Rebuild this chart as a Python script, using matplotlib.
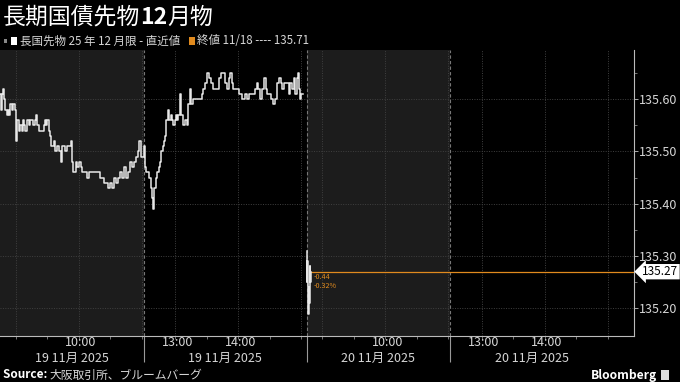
"""
JGB futures (Dec contract) intraday chart, Bloomberg dark style.
x axis is in trading minutes, so lunch break and overnight are squeezed out.
"""

import matplotlib
matplotlib.use("Agg")
import matplotlib.pyplot as plt
import matplotlib.transforms as mtransforms
from matplotlib.patches import Rectangle

plt.rcParams["font.family"] = ["Noto Sans CJK JP", "DejaVu Sans"]

TITLE_A = "長期国債先物"
TITLE_B = "12"
TITLE_C = "月物"
SERIES_LABEL = "長国先物 25 年 12 月限 - 直近値"
CLOSE_LABEL = "終値 11/18 ---- 135.71"
SOURCE_TEXT = "大阪取引所、ブルームバーグ"
PREV_CLOSE = 135.71

# morning / afternoon sessions of one trading day
SESSIONS = [("08:45", "11:02"), ("12:30", "15:05")]
DAYS = ["19 11月 2025", "20 11月 2025"]
HOUR_GRID = ["09:00", "10:00", "11:00", "13:00", "14:00", "15:00"]
HOUR_LABELS = ["10:00", "13:00", "14:00"]
HALF_HOURS = ["09:00", "09:30", "10:00", "10:30", "11:00",
              "13:00", "13:30", "14:00", "14:30", "15:00"]
Y_TICKS = [135.20, 135.30, 135.40, 135.50, 135.60]

# 19 Nov, trading minutes since the open
day1_t = [0, 1, 2, 3, 4, 5, 6.5, 7.5, 9, 10, 11.5, 12.5, 14, 15, 15.5, 16.5,
          18, 19, 20.5, 21.5, 23, 24, 25.5, 27.5, 29, 31, 33, 34.5, 35.5, 37.5,
          39.5, 41.5, 42.5, 44, 45, 46.5, 47.5, 49, 50, 51.5, 52.5, 54.5, 56.5,
          58.5, 59.5, 61.5, 63.5, 65.5, 67.5, 68.5, 70, 72, 73.5, 75.5, 77,
          78.5, 80.5, 82.5, 84.5, 86.5, 89, 91.5, 93.5, 95, 97, 99, 101, 103,
          105, 106.5, 108.5, 110.5, 112.5, 114.5, 116, 118, 120, 122, 124,
          125.5, 127.5, 129.5, 131.5, 132.5, 134,
          137, 138.5, 139.5, 141, 142, 143.5, 145, 146, 147, 148.5, 150, 151,
          152.5, 153.5, 155, 156, 157.5, 158.5, 160, 161, 162.5, 164, 165,
          166.5, 167.5, 169, 170, 171.5, 172.5, 174, 176, 178, 179.5, 181, 182,
          184, 186, 188, 190, 192, 193.5, 195.5, 197.5, 199.5, 201, 203, 205,
          207, 209, 211, 212.5, 214, 216, 218, 219, 221, 222, 224, 226, 228,
          230, 231, 233, 235, 237, 239, 240.5, 242.5, 244.5, 246, 247.5, 249.5,
          251.5, 253.5, 254.5, 256.5, 258.5, 260.5, 262, 264, 265.5, 267.5,
          269, 271, 273, 275, 276, 278, 280, 281, 282.5, 284, 285, 285.5, 287,
          289]
day1_p = [135.61, 135.58, 135.61, 135.62, 135.60, 135.58, 135.57, 135.58,
          135.57, 135.59, 135.58, 135.59, 135.58, 135.57, 135.52, 135.56,
          135.54, 135.55, 135.54, 135.56, 135.55, 135.54, 135.56, 135.55,
          135.56, 135.55, 135.56, 135.57, 135.55, 135.54, 135.54, 135.55,
          135.56, 135.55, 135.56, 135.54, 135.53, 135.51, 135.51, 135.52,
          135.50, 135.51, 135.50, 135.48, 135.51, 135.50, 135.51, 135.51,
          135.52, 135.48, 135.46, 135.48, 135.47, 135.48, 135.47, 135.46,
          135.46, 135.45, 135.46, 135.46, 135.46, 135.46, 135.46, 135.45,
          135.45, 135.44, 135.44, 135.43, 135.44, 135.43, 135.45, 135.44,
          135.45, 135.46, 135.45, 135.47, 135.45, 135.46, 135.48, 135.47,
          135.48, 135.49, 135.50, 135.52, 135.49,
          135.51, 135.47, 135.46, 135.46, 135.45, 135.43, 135.41, 135.39,
          135.43, 135.45, 135.46, 135.47, 135.48, 135.50, 135.51, 135.52,
          135.53, 135.56, 135.58, 135.56, 135.57, 135.56, 135.55, 135.56,
          135.57, 135.56, 135.57, 135.61, 135.57, 135.55, 135.56, 135.55,
          135.59, 135.62, 135.59, 135.60, 135.60, 135.60, 135.60, 135.61,
          135.62, 135.63, 135.65, 135.64, 135.63, 135.62, 135.62, 135.62,
          135.64, 135.65, 135.65, 135.63, 135.62, 135.64, 135.65, 135.63,
          135.62, 135.62, 135.62, 135.61, 135.61, 135.60, 135.61, 135.60,
          135.61, 135.61, 135.61, 135.62, 135.63, 135.62, 135.60, 135.62,
          135.64, 135.62, 135.61, 135.61, 135.60, 135.59, 135.60, 135.63,
          135.64, 135.63, 135.62, 135.63, 135.63, 135.61, 135.63, 135.62,
          135.64, 135.61, 135.64, 135.65, 135.62, 135.60, 135.61, 135.61]

# 20 Nov opening minutes
day2_t = [292, 292.4, 292.8, 293.2, 293.6, 294, 294.5, 295, 295.5, 296]
day2_p = [135.31, 135.25, 135.29, 135.21, 135.19, 135.24, 135.21, 135.28,
          135.25, 135.27]

GREY_BG = "#1c1c1c"
LINE_C = "#e8e8e8"
ORANGE = "#e08a1e"
TEXT_C = "#d6d6d6"
GRID_C = "#404040"


def to_min(hhmm):
    h, m = hhmm.split(":")
    return int(h) * 60 + int(m)


SESSION_LEN = [to_min(c) - to_min(o) for o, c in SESSIONS]
DAY_LEN = sum(SESSION_LEN)


def trade_x(day, hhmm):
    t = to_min(hhmm)
    x = day * DAY_LEN
    for (o, c), n in zip(SESSIONS, SESSION_LEN):
        if t <= to_min(c):
            return x + max(t - to_min(o), 0)
        x += n
    return x


def main():
    assert len(day1_t) == len(day1_p)
    assert len(day2_t) == len(day2_p)

    fig = plt.figure(figsize=(6.8, 3.82), dpi=100, facecolor="black")
    ax = fig.add_axes([0, 0.1204, 0.9324, 0.7487], facecolor="black")
    x_end = 604
    ax.set_xlim(0, x_end)
    ax.set_ylim(135.147, 135.694)

    # morning sessions shaded grey
    bounds = []
    for d in range(len(DAYS)):
        ax.axvspan(trade_x(d, SESSIONS[0][0]), trade_x(d, SESSIONS[0][1]),
                   color=GREY_BG, lw=0, zorder=0)
        bounds.append(trade_x(d, SESSIONS[0][1]))
        if d < len(DAYS) - 1:
            bounds.append((d + 1) * DAY_LEN)

    for y in Y_TICKS:
        ax.axhline(y, color=GRID_C, lw=0.7, ls=(0, (1, 1.5)), zorder=1)
    for d in range(len(DAYS)):
        for h in HOUR_GRID:
            ax.axvline(trade_x(d, h), color=GRID_C, lw=0.7, ls=(0, (1, 1.5)),
                       zorder=1)
    for b in bounds:
        ax.axvline(b, color="#777777", lw=0.8, ls=(0, (3, 2)), zorder=1)

    ax.plot(day1_t, day1_p, color=LINE_C, lw=1.1, drawstyle="steps-post",
            zorder=3)
    ax.plot(day2_t, day2_p, color=LINE_C, lw=1.1, drawstyle="steps-post",
            zorder=3)

    last = day2_p[-1]
    ax.plot([day2_t[-1], x_end], [last, last], color=ORANGE, lw=0.9, zorder=2)
    chg = last - PREV_CLOSE
    pct = chg / PREV_CLOSE * 100
    ax.annotate(f"{chg:.2f}", xy=(day2_t[-1], last), xytext=(2, -3.8),
                textcoords="offset points", color=ORANGE, fontsize=5.2,
                ha="left", va="center")
    ax.annotate(f"{pct:.2f}%", xy=(day2_t[-1], last), xytext=(2, -10),
                textcoords="offset points", color=ORANGE, fontsize=5.2,
                ha="left", va="center")

    # right axis
    for s in ["top", "left"]:
        ax.spines[s].set_visible(False)
    for s in ["right", "bottom"]:
        ax.spines[s].set_color("#bbbbbb")
        ax.spines[s].set_linewidth(0.8)
    ax.yaxis.tick_right()
    ax.set_yticks(Y_TICKS)
    ax.set_yticklabels([f"{v:.2f}" for v in Y_TICKS])
    ax.set_yticks([v + 0.05 for v in [135.15] + Y_TICKS], minor=True)
    ax.tick_params(axis="y", which="major", colors="#aaaaaa", length=3,
                   width=0.7, labelcolor=TEXT_C, labelsize=9, pad=0.5)
    ax.tick_params(axis="y", which="minor", colors="#888888", length=2,
                   width=0.6)

    # bottom axis: long ticks at session breaks, short ticks every 30 min
    ax.set_xticks(bounds)
    ax.set_xticklabels([])
    ax.set_xticks([trade_x(d, h) for d in range(len(DAYS)) for h in HALF_HOURS],
                  minor=True)
    ax.tick_params(axis="x", which="major", colors="#999999", length=19,
                   width=0.8)
    ax.tick_params(axis="x", which="minor", colors="#888888", length=2,
                   width=0.6)

    xt = mtransforms.blended_transform_factory(ax.transData, ax.transAxes)
    for d, day_lbl in enumerate(DAYS):
        for h in HOUR_LABELS:
            ax.annotate(h, xy=(trade_x(d, h), 0), xycoords=xt,
                        xytext=(1.5, -4.8), textcoords="offset points",
                        ha="center", va="center", color=TEXT_C, fontsize=9)
        for o, c in SESSIONS:
            mid = (trade_x(d, o) + trade_x(d, c)) / 2
            ax.annotate(day_lbl, xy=(mid, 0), xycoords=xt,
                        xytext=(0, -16.5), textcoords="offset points",
                        ha="center", va="center", color=TEXT_C, fontsize=9)

    # last value tag
    ax.annotate(f"{last:.2f}", xy=(1, last), xycoords=("axes fraction", "data"),
                xytext=(6, 0), textcoords="offset points", ha="left",
                va="center", color="black", fontsize=8.5,
                bbox=dict(boxstyle="larrow,pad=0.1", fc="white", ec="none"))

    # title
    r = fig.canvas.get_renderer()
    ty = 1 - 17 / 382
    t1 = fig.text(0.004, ty, TITLE_A, color="white", fontsize=16.5,
                  va="center", ha="left")
    bb = t1.get_window_extent(r).transformed(fig.transFigure.inverted())
    t2 = fig.text(bb.x1, ty, TITLE_B, color="white", fontsize=16.5,
                  fontweight="bold", va="center", ha="left")
    bb = t2.get_window_extent(r).transformed(fig.transFigure.inverted())
    fig.text(bb.x1, ty, TITLE_C, color="white", fontsize=16.5,
             va="center", ha="left")

    # legend row
    ly = 1 - 41 / 382
    fig.add_artist(Rectangle((11 / 680, ly - 4 / 382), 6 / 680, 8 / 382,
                             transform=fig.transFigure, fc="white", ec="none"))
    fig.add_artist(Rectangle((4 / 680, ly - 1.5 / 382), 3 / 680, 3 / 382,
                             transform=fig.transFigure, fc="#888888", ec="none"))
    fig.text(20 / 680, ly, SERIES_LABEL, color=TEXT_C, fontsize=8.3,
             va="center", ha="left")
    fig.add_artist(Rectangle((189 / 680, ly - 4 / 382), 6 / 680, 8 / 382,
                             transform=fig.transFigure, fc=ORANGE, ec="none"))
    fig.text(197 / 680, ly, CLOSE_LABEL, color=TEXT_C, fontsize=8.3,
             va="center", ha="left")

    # footer
    fy = 1 - 375 / 382
    s1 = fig.text(0.004, fy, "Source: ", color="white", fontsize=8.5,
                  fontweight="bold", va="center", ha="left")
    bb = s1.get_window_extent(r).transformed(fig.transFigure.inverted())
    fig.text(bb.x1, fy, SOURCE_TEXT, color=TEXT_C, fontsize=8.5,
             va="center", ha="left")
    fig.text(657 / 680, fy, "Bloomberg", color="white", fontsize=8.7,
             fontweight="bold", va="center", ha="right")
    fig.add_artist(Rectangle((661 / 680, fy - 5 / 382), 8 / 680, 10 / 382,
                             transform=fig.transFigure, fc="#dddddd",
                             ec="none"))

    fig.savefig("out.png", dpi=100, facecolor="black")
    plt.close(fig)


if __name__ == "__main__":
    main()
